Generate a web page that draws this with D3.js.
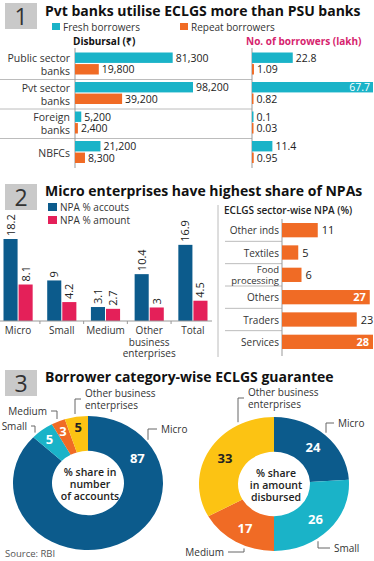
<!DOCTYPE html>
<html>
<head>
<meta charset="utf-8">
<script src="https://cdn.jsdelivr.net/npm/d3@7"></script>
<style>
body{margin:0;background:#fff;}
text{font-family:'Open Sans',sans-serif;}
</style>
</head>
<body>
<div id="chart"></div>
<script>
// ---- data ----
// section 1
const bankTypes = ['Public sector|banks','Pvt sector|banks','Foreign|banks','NBFCs'];
const freshDisbursal = [81300,98200,5200,21200];
const repeatDisbursal = [19800,39200,2400,8300];
const freshBorrowers = [22.8,67.7,0.1,11.4];
const repeatBorrowers = [1.09,0.82,0.03,0.95];
// section 2
const enterpriseTypes = ['Micro','Small','Medium','Other|business|enterprises','Total'];
const npaAccounts = [18.2,9,3.1,10.4,16.9];
const npaAmount = [8.1,4.2,2.7,3,4.5];
const sectors = ['Other inds','Textiles','Food|processing','Others','Traders','Services'];
const sectorNPA = [11,5,6,27,23,28];
// section 3
const borrowerTypes = ['Micro','Small','Medium','Other business enterprises'];
const shareAccounts = [87,5,3,5];
const shareAmount = [24,26,17,33];

const C = {cyan:'#1ab3c8', orange:'#f06b25', blue:'#0c5b8c', pink:'#e42059', yellow:'#fcc313', grid:'#bcbcbc', text:'#222'};
const borrowerColor = d3.scaleOrdinal().domain(borrowerTypes).range([C.blue,C.cyan,C.orange,C.yellow]);

const width = 374, height = 561;
const svg = d3.select('#chart').append('svg')
  .attr('width',width).attr('height',height);

function header(num, title, y, base){
  svg.append('rect').attr('x',5).attr('y',y).attr('width',32).attr('height',26).attr('fill','#c9c9c9');
  svg.append('text').attr('x',21).attr('y',y+22).attr('text-anchor','middle')
    .attr('font-size',23).attr('fill','#333').text(num);
  svg.append('text').attr('x',45).attr('y',base).attr('font-size',14).attr('font-weight',700)
    .attr('fill','#111').text(title);
}

function multiline(sel, str, x, y, lh){
  const parts = str.split('|');
  parts.forEach((p,i) => sel.append('tspan').attr('x',x).attr('y',y+i*lh).text(p));
}

//------------ Section 1 ------------
header('1','Pvt banks utilise ECLGS more than PSU banks',3,15.5);

// legend
const leg1 = svg.append('g');
[['Fresh borrowers',C.cyan,52],['Repeat borrowers',C.orange,180]].forEach(d => {
  leg1.append('rect').attr('x',d[2]).attr('y',23).attr('width',8).attr('height',7).attr('fill',d[1]);
  leg1.append('text').attr('x',d[2]+11).attr('y',30.5).attr('font-size',10).attr('fill','#333').text(d[0]);
});
svg.append('text').attr('x',73).attr('y',45).attr('font-size',10).attr('font-weight',700).attr('fill','#111').text('Disbursal (₹)');
svg.append('text').attr('x',246).attr('y',45).attr('font-size',10).attr('font-weight',700).attr('fill','#d6246e').text('No. of borrowers (lakh)');

const banks = bankTypes.map((b,i) => ({name:b, freshD:freshDisbursal[i], repeatD:repeatDisbursal[i], freshB:freshBorrowers[i], repeatB:repeatBorrowers[i]}));
const rowY = d3.scaleBand().domain(bankTypes).range([50,168]);
const subY = d3.scaleBand().domain(['fresh','repeat']).range([2.5,24.5]).paddingInner(0.1);
const xDisb = d3.scaleLinear().domain([0,98200]).range([75,193]);
const xBorr = d3.scaleLinear().domain([0,67.7]).range([252,373]);
const fmt = d3.format(',');

const g1 = svg.append('g');
// separators
g1.selectAll('.sep').data(banks.slice(1)).join('line')
  .attr('x1',0).attr('x2',252).attr('y1',d=>rowY(d.name)).attr('y2',d=>rowY(d.name))
  .attr('stroke',C.grid).attr('stroke-width',1);
// axes lines
[75,252].forEach(x => g1.append('line').attr('x1',x).attr('x2',x).attr('y1',48).attr('y2',168).attr('stroke','#999'));

// row labels
banks.forEach(d => {
  const parts = d.name.split('|');
  const t = g1.append('text').attr('text-anchor','end').attr('font-size',10.5).attr('fill','#333');
  if(parts.length>1) multiline(t,d.name,70,rowY(d.name)+12,13);
  else t.attr('x',70).attr('y',rowY(d.name)+rowY.bandwidth()/2+4).text(d.name);
});

function barPair(xs, keyF, keyR, fmtF, axisX){
  const series = [['fresh',keyF,C.cyan],['repeat',keyR,C.orange]];
  series.forEach(s => {
    g1.selectAll(null).data(banks).join('rect')
      .attr('x',axisX).attr('y',d=>rowY(d.name)+subY(s[0]))
      .attr('width',d=>Math.max(1.5,xs(d[s[1]])-axisX)).attr('height',subY.bandwidth())
      .attr('fill',s[2]);
    g1.selectAll(null).data(banks).join('text')
      .attr('x',d=> xs(d[s[1]])>width-20 ? xs(d[s[1]])-3 : Math.max(xs(d[s[1]]),axisX+1.5)+3)
      .attr('y',d=>rowY(d.name)+subY(s[0])+subY.bandwidth()/2+4)
      .attr('text-anchor',d=> xs(d[s[1]])>width-20 ? 'end':'start')
      .attr('fill',d=> xs(d[s[1]])>width-20 ? '#fff':'#222')
      .attr('font-size',10.5)
      .text(d=>fmtF(d[s[1]]));
  });
}
barPair(xDisb,'freshD','repeatD',fmt,75);
barPair(xBorr,'freshB','repeatB',v=>String(v),252);

//------------ Section 2 ------------
header('2','Micro enterprises have highest share of NPAs',184,196);

[['NPA % accouts',C.blue,202],['NPA % amount',C.pink,215]].forEach(d => {
  svg.append('rect').attr('x',48).attr('y',d[2]+1).attr('width',9).attr('height',8).attr('fill',d[1]);
  svg.append('text').attr('x',60).attr('y',d[2]+9).attr('font-size',10).attr('fill','#333').text(d[0]);
});

const ent = enterpriseTypes.map((e,i) => ({name:e, acc:npaAccounts[i], amt:npaAmount[i]}));
const x0 = d3.scaleBand().domain(enterpriseTypes).range([3,208]).paddingInner(0.31).paddingOuter(0);
const x1 = d3.scaleBand().domain(['acc','amt']).range([0,x0.bandwidth()]);
const yNPA = d3.scaleLinear().domain([0,18.2]).range([321,239]);
const g2 = svg.append('g');

const groups = g2.selectAll('.grp').data(ent).join('g').attr('transform',d=>`translate(${x0(d.name)},0)`);
[['acc',C.blue],['amt',C.pink]].forEach(s => {
  groups.append('rect').attr('x',x1(s[0])+0.5).attr('width',x1.bandwidth()-1)
    .attr('y',d=>yNPA(d[s[0]])).attr('height',d=>yNPA(0)-yNPA(d[s[0]])).attr('fill',s[1]);
  groups.append('text')
    .attr('transform',d=>`translate(${x1(s[0])+x1.bandwidth()/2+4},${yNPA(d[s[0]])-3}) rotate(-90)`)
    .attr('font-size',11).attr('fill','#222').text(d=>d[s[0]]);
});
// baseline
g2.append('line').attr('x1',0).attr('x2',212).attr('y1',321).attr('y2',321).attr('stroke','#999');
ent.slice(1).forEach(d => {
  const tx = x0(d.name) - x0.step()*x0.paddingInner()/2;
  g2.append('line').attr('x1',tx).attr('x2',tx).attr('y1',321).attr('y2',324).attr('stroke','#999');
});
ent.forEach(d => {
  const t = g2.append('text').attr('text-anchor','middle').attr('font-size',10).attr('fill','#333');
  multiline(t,d.name,x0(d.name)+x0.bandwidth()/2,334,11.5);
});
// divider
g2.append('line').attr('x1',218).attr('x2',218).attr('y1',205).attr('y2',357).attr('stroke',C.grid);

// sector chart
svg.append('text').attr('x',224).attr('y',214).attr('font-size',10).attr('font-weight',600).attr('fill','#222').text('ECLGS sector-wise NPA (%)');
const sec = sectors.map((s,i) => ({name:s, v:sectorNPA[i]}));
const yS = d3.scaleBand().domain(sectors).range([219,353]).paddingInner(0.36).paddingOuter(0.18);
const xS = d3.scaleLinear().domain([0,28]).range([282,373]);
const g3 = svg.append('g');
sec.slice(1).forEach(d => {
  const y = yS(d.name) - yS.step()*yS.paddingInner()/2;
  g3.append('line').attr('x1',225).attr('x2',282).attr('y1',y).attr('y2',y).attr('stroke',C.grid);
});
g3.append('line').attr('x1',282).attr('x2',282).attr('y1',219).attr('y2',356).attr('stroke','#999');
g3.selectAll('.sb').data(sec).join('rect')
  .attr('x',282).attr('y',d=>yS(d.name)).attr('width',d=>xS(d.v)-282).attr('height',yS.bandwidth()).attr('fill',C.orange);
g3.selectAll('.sv').data(sec).join('text')
  .attr('x',d=> d.v>=25 ? xS(d.v)-4 : xS(d.v)+4)
  .attr('y',d=>yS(d.name)+yS.bandwidth()/2+4)
  .attr('text-anchor',d=> d.v>=25 ? 'end':'start')
  .attr('fill',d=> d.v>=25 ? '#fff':'#222')
  .attr('font-weight',d=> d.v>=25 ? 700:400)
  .attr('font-size',11).text(d=>d.v);
sec.forEach(d => {
  const parts = d.name.split('|');
  const t = g3.append('text').attr('text-anchor','end').attr('font-size',parts.length>1?9.5:10).attr('fill','#333');
  const cy = yS(d.name)+yS.bandwidth()/2;
  multiline(t,d.name,279,cy+4-(parts.length-1)*5.5,11);
});

//------------ Section 3 ------------
header('3','Borrower category-wise ECLGS guarantee',370,382);

const RX = 75, RY = 67, SY = RY/RX;
function donut(cx, cy, values, centerText, callouts){
  const pie = d3.pie().sort(null).value(d=>d.v);
  const arcs = pie(values.map((v,i)=>({v, type:borrowerTypes[i]})));
  const arc = d3.arc().innerRadius(36).outerRadius(RX);
  const g = svg.append('g').attr('transform',`translate(${cx},${cy})`);
  g.append('g').attr('transform',`scale(1,${SY})`)
    .selectAll('path').data(arcs).join('path').attr('d',arc).attr('fill',d=>borrowerColor(d.data.type));
  // slice labels
  const labelAngle = d => d.endAngle-d.startAngle>Math.PI ? d.startAngle+Math.PI/3 : (d.startAngle+d.endAngle)/2;
  const labelR = d => d.data.v<10 ? 63 : 57;
  g.selectAll('.lbl').data(arcs).join('text')
    .attr('x',d=>labelR(d)*Math.sin(labelAngle(d)))
    .attr('y',d=>-labelR(d)*Math.cos(labelAngle(d))*SY+5)
    .attr('text-anchor','middle').attr('font-size',13).attr('font-weight',700)
    .attr('fill',d=>d.data.type===borrowerTypes[3] ? '#222' : '#fff')
    .text(d=>d.data.v);
  // centre
  const t = g.append('text').attr('text-anchor','middle').attr('font-size',10.5).attr('font-weight',600).attr('fill','#222');
  multiline(t,centerText,2,-7,12);
  // callouts
  callouts.forEach(c => {
    const edge = RY*Math.sqrt(1-(c.lx/RX)**2)+3;
    const yEnd = c.ly<0 ? -edge : edge;
    const hx = c.lx + (c.side==='right' ? c.len : -c.len);
    g.append('path').attr('d',`M${hx},${c.ly}H${c.lx}V${yEnd}`).attr('fill','none').attr('stroke','#666').attr('stroke-width',1);
    const tt = g.append('text').attr('font-size',10).attr('fill','#333')
      .attr('text-anchor',c.side==='right'?'start':'end');
    const tx = hx + (c.side==='right'?4:-4);
    multiline(tt,c.text,tx,c.ly+4+(c.dy||0),12);
  });
}

donut(88,483,shareAccounts,'% share in|number|of accounts',[
  {text:'Micro', lx:60, ly:-54, side:'right', len:9},
  {text:'Other business|enterprises', lx:-13, ly:-84, side:'right', len:6, dy:-6},
  {text:'Medium', lx:-31, ly:-72, side:'left', len:6},
  {text:'Small', lx:-53, ly:-57, side:'left', len:4}
]);
donut(274,484,shareAmount,'% share|in amount|disbursed',[
  {text:'Other business|enterprises', lx:-36, ly:-86, side:'right', len:6, dy:-6},
  {text:'Micro', lx:52, ly:-61, side:'right', len:8},
  {text:'Small', lx:44, ly:64, side:'right', len:12},
  {text:'Medium', lx:-30, ly:68, side:'left', len:16}
]);

svg.append('text').attr('x',5).attr('y',557).attr('font-size',9.5).attr('fill','#555').text('Source: RBI');
</script>
</body>
</html>
